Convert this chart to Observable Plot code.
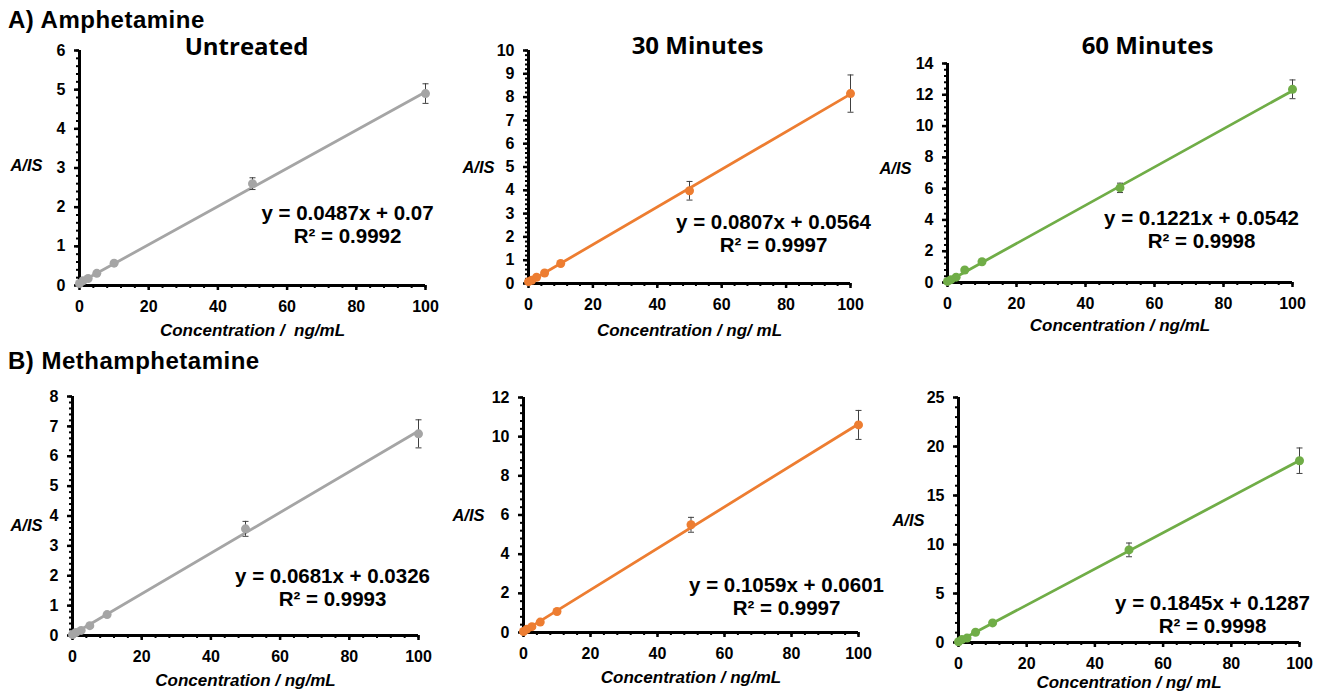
<!DOCTYPE html>
<html><head><meta charset="utf-8">
<script src="https://cdn.jsdelivr.net/npm/d3@7"></script>
<script src="https://cdn.jsdelivr.net/npm/@observablehq/plot@0.6"></script>
<style>
body{margin:0;background:#fff;}
#page{position:relative;width:1329px;height:693px;overflow:hidden;background:#fff;font-family:"Liberation Sans",Arial,sans-serif;}
.panel{position:absolute;}
.panel svg{overflow:visible;}
.panel svg text{font-weight:bold;}
.heading{position:absolute;left:8px;font-weight:bold;font-size:24px;letter-spacing:0.5px;line-height:1;white-space:nowrap;}
</style></head><body><div id="page"></div>
<script>
// ---------- data ----------
const concentrations = [0, 1, 2.5, 5, 10, 50, 100];

const ampUntreated    = [0.05, 0.12, 0.18, 0.31, 0.57, 2.60, 4.90];
const ampUntreatedErr = [0.01, 0.01, 0.02, 0.02, 0.03, 0.15, 0.25];
const amp30           = [0.08, 0.14, 0.27, 0.45, 0.86, 3.98, 8.15];
const amp30Err        = [0.01, 0.01, 0.02, 0.03, 0.05, 0.40, 0.80];
const amp60           = [0.07, 0.18, 0.34, 0.80, 1.33, 6.05, 12.35];
const amp60Err        = [0.01, 0.02, 0.03, 0.05, 0.06, 0.30, 0.60];
const methUntreated    = [0.03, 0.10, 0.17, 0.33, 0.70, 3.57, 6.75];
const methUntreatedErr = [0.01, 0.01, 0.02, 0.02, 0.04, 0.25, 0.47];
const meth30           = [0.05, 0.17, 0.30, 0.53, 1.07, 5.50, 10.60];
const meth30Err        = [0.01, 0.01, 0.02, 0.03, 0.05, 0.38, 0.74];
const meth60           = [0.08, 0.30, 0.45, 1.05, 2.00, 9.45, 18.55];
const meth60Err        = [0.01, 0.02, 0.03, 0.05, 0.08, 0.70, 1.30];

const slopes     = [0.0487, 0.0807, 0.1221, 0.0681, 0.1059, 0.1845];
const intercepts = [0.07, 0.0564, 0.0542, 0.0326, 0.0601, 0.1287];
const equationLabels = ["y = 0.0487x + 0.07", "y = 0.0807x + 0.0564", "y = 0.1221x + 0.0542",
                        "y = 0.0681x + 0.0326", "y = 0.1059x + 0.0601", "y = 0.1845x + 0.1287"];
const r2Labels = ["R² = 0.9992", "R² = 0.9997", "R² = 0.9998", "R² = 0.9993", "R² = 0.9997", "R² = 0.9998"];

const panelTitles = ["Untreated", "30 Minutes", "60 Minutes", "", "", ""];
const xTitles = ["Concentration /  ng/mL", "Concentration / ng/ mL", "Concentration / ng/mL",
                 "Concentration / ng/mL", "Concentration / ng/mL", "Concentration / ng/ mL"];
const yTitle = "A/IS";
const yMaxes = [6, 10, 14, 8, 12, 25];
const yMajorSteps = [1, 1, 2, 1, 2, 5];
const xMax = 100, xMajorStep = 20;
const headings = ["A) Amphetamine", "B) Methamphetamine"];

const seriesValues = [ampUntreated, amp30, amp60, methUntreated, meth30, meth60];
const seriesErrors = [ampUntreatedErr, amp30Err, amp60Err, methUntreatedErr, meth30Err, meth60Err];

// ---------- layout / style ----------
const colors = ["#A5A5A5", "#ED7D31", "#70AD47", "#A5A5A5", "#ED7D31", "#70AD47"];
const layout = [
  {x0: 79,  x1: 425,  yt: 50,  yb: 285, title: [246, 47], ylab: [26, 165], xlab: 330, eq: [347, 224]},
  {x0: 528, x1: 850,  yt: 50,  yb: 283, title: [697, 46], ylab: [478, 167], xlab: 330, eq: [773, 233]},
  {x0: 947, x1: 1292, yt: 63,  yb: 282, title: [1147, 46], ylab: [895, 168], xlab: 325, eq: [1201, 229]},
  {x0: 72,  x1: 418,  yt: 396, yb: 635, title: [0, 0], ylab: [26, 525], xlab: 680, eq: [332, 587]},
  {x0: 523, x1: 858,  yt: 397, yb: 632, title: [0, 0], ylab: [468, 515], xlab: 677, eq: [786, 596]},
  {x0: 958, x1: 1299, yt: 397, yb: 642, title: [0, 0], ylab: [908, 520], xlab: 682, eq: [1212, 614]}
];
const M = {left: 75, right: 30, top: 50, bottom: 55};

const capSymbol = {draw(ctx, size) { const w = Math.sqrt(size / Math.PI); ctx.moveTo(-w, 0); ctx.lineTo(w, 0); }};

const page = document.getElementById("page");

headings.forEach((h, k) => {
  const d = document.createElement("div");
  d.className = "heading";
  d.style.top = (k === 0 ? 8 : 349) + "px";
  d.textContent = h;
  page.appendChild(d);
});

for (let i = 0; i < 6; i++) {
  const L = layout[i];
  const data = concentrations.map((c, j) => ({x: c, y: seriesValues[i][j], e: seriesErrors[i][j]}));
  const fit = [d3.min(concentrations), d3.max(concentrations)].map(x => ({x, y: slopes[i] * x + intercepts[i]}));
  const yMax = yMaxes[i], yStep = yMajorSteps[i];
  const yMajor = d3.range(0, yMax + yStep / 2, yStep);
  const yMinor = d3.range(0, yMax + yStep / 10, yStep / 5);
  const xMajor = d3.range(0, xMax + 1, xMajorStep);
  const xMinor = d3.range(0, xMax + 0.1, xMajorStep / 5);
  const w = L.x1 - L.x0 + M.left + M.right;
  const h = L.yb - L.yt + M.top + M.bottom;

  const marks = [
    Plot.axisY({ticks: yMinor, tickSize: 3, fill: "none", label: null, stroke: "#000", strokeWidth: 2}),
    Plot.axisY({ticks: yMajor, tickSize: 5, tickPadding: 9, label: null, stroke: "#000", strokeWidth: 2.5,
                fontSize: 16, fontWeight: "bold", fill: "#000", tickFormat: d => String(d)}),
    Plot.axisX({ticks: xMinor, tickSize: 3, fill: "none", label: null, stroke: "#000", strokeWidth: 2}),
    Plot.axisX({ticks: xMajor, tickSize: 5, tickPadding: 10, label: null, stroke: "#000", strokeWidth: 2.5,
                fontSize: 16, fontWeight: "bold", fill: "#000", tickFormat: d => String(d)}),
    Plot.ruleX([0], {stroke: "#000", strokeWidth: 3}),
    Plot.ruleY([0], {stroke: "#000", strokeWidth: 3}),
    Plot.line(fit, {x: "x", y: "y", stroke: colors[i], strokeWidth: 2.8}),
    Plot.ruleX(data, {x: "x", y1: d => d.y - d.e, y2: d => d.y + d.e, stroke: "#404040", strokeWidth: 1}),
    Plot.dot(data, {x: "x", y: d => d.y + d.e, symbol: capSymbol, r: 3, stroke: "#404040", strokeWidth: 1}),
    Plot.dot(data, {x: "x", y: d => d.y - d.e, symbol: capSymbol, r: 3, stroke: "#404040", strokeWidth: 1}),
    Plot.dot(data, {x: "x", y: "y", fill: colors[i], r: 4.5}),
    Plot.text([equationLabels[i] + "\n" + r2Labels[i]], {
      frameAnchor: "top-left", dx: L.eq[0] - L.x0, dy: L.eq[1] - L.yt,
      textAnchor: "middle", lineAnchor: "middle", lineHeight: 1.12,
      fontSize: 20.5, fontWeight: "bold", fill: "#000"}),
    Plot.text([yTitle], {
      frameAnchor: "top-left", dx: L.ylab[0] - L.x0, dy: L.ylab[1] - L.yt,
      textAnchor: "middle", lineAnchor: "middle",
      fontSize: 16.5, fontWeight: "bold", fontStyle: "italic", fill: "#000"}),
    Plot.text([xTitles[i]], {
      frameAnchor: "top-left", dx: (L.x0 + L.x1) / 2 - L.x0, dy: L.xlab - L.yt,
      textAnchor: "middle", lineAnchor: "middle",
      fontSize: 17, fontWeight: "bold", fontStyle: "italic", fill: "#000"})
  ];
  if (panelTitles[i]) {
    marks.push(Plot.text([panelTitles[i]], {
      frameAnchor: "top-left", dx: L.title[0] - L.x0, dy: L.title[1] - L.yt,
      textAnchor: "middle", lineAnchor: "middle",
      fontSize: 24, fontWeight: "bold", fontFamily: "'Open Sans'", fill: "#000"}));
  }

  const svg = Plot.plot({
    width: w, height: h,
    marginLeft: M.left, marginRight: M.right, marginTop: M.top, marginBottom: M.bottom,
    x: {domain: [0, xMax], label: null},
    y: {domain: [0, yMax], label: null},
    style: {fontFamily: "'Liberation Sans', Arial, sans-serif", background: "transparent", overflow: "visible", color: "#000"},
    marks
  });
  const div = document.createElement("div");
  div.className = "panel";
  div.style.left = (L.x0 - M.left) + "px";
  div.style.top = (L.yt - M.top) + "px";
  div.appendChild(svg);
  page.appendChild(div);
}
</script></body></html>
